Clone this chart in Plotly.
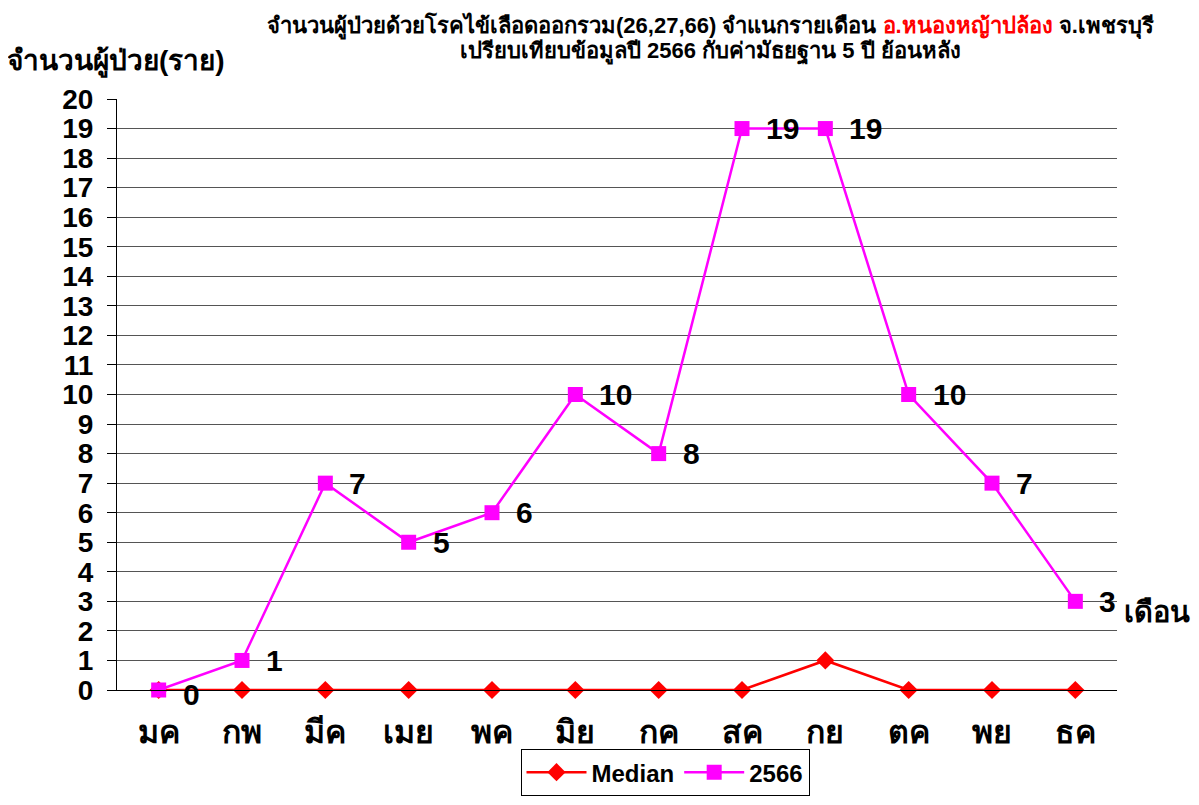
import plotly.graph_objects as go

months = ["มค", "กพ", "มีค", "เมย", "พค", "มิย", "กค", "สค", "กย", "ตค", "พย", "ธค"]
median = [0, 0, 0, 0, 0, 0, 0, 0, 1, 0, 0, 0]
y2566 = [0, 1, 7, 5, 6, 10, 8, 19, 19, 10, 7, 3]
yticks = list(range(0, 21))

FONT = "Tahoma, Liberation Sans, Arial, sans-serif"

fig = go.Figure()
fig.add_trace(go.Scatter(
    x=months, y=median, name="Median", mode="lines+markers",
    line=dict(color="#ff0000", width=2.5),
    marker=dict(symbol="diamond", size=14, color="#ff0000"),
    cliponaxis=False,
))
fig.add_trace(go.Scatter(
    x=months, y=y2566, name="2566", mode="lines+markers",
    line=dict(color="#ff00ff", width=2.5),
    marker=dict(symbol="square", size=15, color="#ff00ff"),
    cliponaxis=False,
))

for i, (m, v) in enumerate(zip(months, y2566)):
    fig.add_annotation(x=m, y=v, text=str(v), showarrow=False,
                       xanchor="left", xshift=22, yshift=-4 if v == 0 else 0,
                       font=dict(size=30, color="black", family=FONT, weight="bold"))

fig.update_layout(
    width=1191, height=797,
    margin=dict(l=109, r=82, t=91, b=115, autoexpand=False),
    paper_bgcolor="white", plot_bgcolor="white",
    font=dict(family=FONT, color="black"),
    showlegend=True,
    legend=dict(orientation="h", x=0.548, xanchor="center", y=-0.1, yanchor="top",
                bordercolor="black", borderwidth=1,
                font=dict(size=24, family=FONT, weight="bold"), itemwidth=60),
)
fig.update_xaxes(
    type="category", showline=True, linecolor="black", linewidth=1,
    ticks="", showgrid=False, range=[-0.5, 11.5], automargin=False,
    ticklabelstandoff=14,
    tickfont=dict(size=32, family=FONT, weight="bold"),
)
fig.update_yaxes(
    range=[0, 20], tickvals=yticks, showline=True, linecolor="black", linewidth=1,
    ticks="outside", ticklen=9, tickcolor="black", automargin=False,
    ticklabelstandoff=8,
    showgrid=True, gridcolor="#555555", gridwidth=1, zeroline=False,
    tickfont=dict(size=28, family=FONT, weight="bold"),
)

fig.add_annotation(xref="paper", yref="paper", x=0.593, y=1.123, yanchor="middle",
                   text="จำนวนผู้ป่วยด้วยโรคไข้เลือดออกรวม(26,27,66) จำแนกรายเดือน <span style='color:#ff0000'>อ.หนองหญ้าปล้อง</span> จ.เพชรบุรี",
                   showarrow=False, font=dict(size=22, family=FONT, weight="bold"))
fig.add_annotation(xref="paper", yref="paper", x=0.593, y=1.080, yanchor="middle",
                   text="เปรียบเทียบข้อมูลปี 2566 กับค่ามัธยฐาน 5 ปี ย้อนหลัง",
                   showarrow=False, font=dict(size=22, family=FONT, weight="bold"))
fig.add_annotation(xref="paper", yref="paper", x=-0.112, y=1.063, xanchor="left", yanchor="middle",
                   text="จำนวนผู้ป่วย(ราย)",
                   showarrow=False, font=dict(size=28, family=FONT, weight="bold"))
fig.add_annotation(xref="paper", yref="paper", x=1.005, y=0.132, xanchor="left", yanchor="middle",
                   text="เดือน",
                   showarrow=False, font=dict(size=29, family=FONT, weight="bold"))

fig.write_html("out.html")
